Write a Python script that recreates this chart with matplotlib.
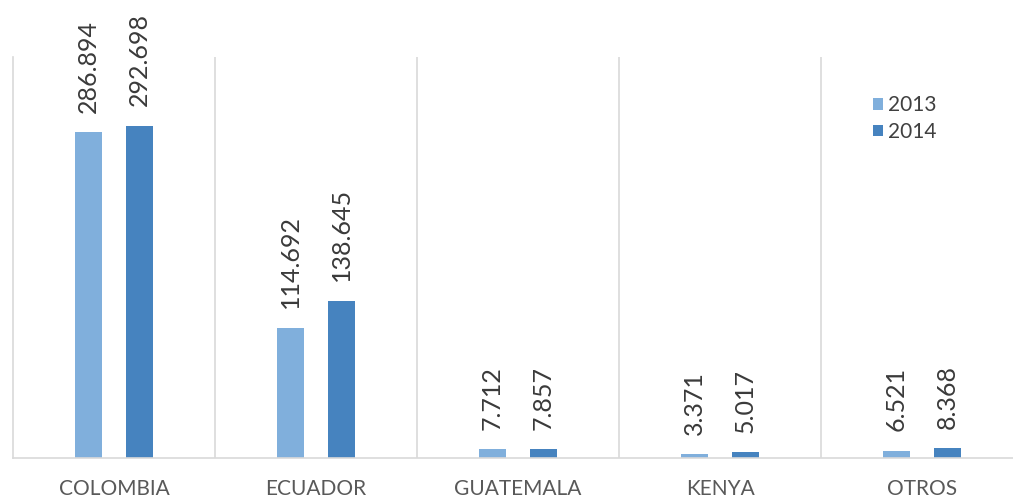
import matplotlib
matplotlib.use("Agg")
import matplotlib.pyplot as plt
import numpy as np

# data
categories = ["COLOMBIA", "ECUADOR", "GUATEMALA", "KENYA", "OTROS"]
values_2013 = [286.894, 114.692, 7.712, 3.371, 6.521]
values_2014 = [292.698, 138.645, 7.857, 5.017, 8.368]
series_names = ["2013", "2014"]

color_2013 = "#80afdc"
color_2014 = "#4683bf"
grid_color = "#d9d9d9"

fig = plt.figure(figsize=(10.13, 4.97), dpi=100)
ax = fig.add_axes([13 / 1013, 39 / 497, 1000 / 1013, 401 / 497])

x = np.arange(len(categories))
w = 0.134
off = 0.126

b1 = ax.bar(x - off, values_2013, w, color=color_2013, label=series_names[0])
b2 = ax.bar(x + off, values_2014, w, color=color_2014, label=series_names[1])

# value labels, rotated, above each bar
for bars, vals in ((b1, values_2013), (b2, values_2014)):
    for rect, v in zip(bars, vals):
        ax.annotate(f"{v:.3f}", (rect.get_x() + rect.get_width() / 2, rect.get_height()),
                    xytext=(0, 14), textcoords="offset points",
                    rotation=90, ha="center", va="bottom",
                    fontsize=18, family="Lato", color="#3a3a3a")

# separators between categories
for sep in np.arange(0.5, len(categories) - 0.5, 1):
    ax.axvline(sep, color=grid_color, lw=1.2)

ax.set_xlim(-0.5, -0.5 + 1000 / 202)
ax.set_ylim(0, 353)
ax.set_yticks([])
ax.set_xticks(x)
ax.set_xticklabels(categories, family="Lato", fontsize=15, color="#595959")
ax.tick_params(axis="x", length=0, pad=15)

for s in ("top", "right"):
    ax.spines[s].set_visible(False)
ax.spines["left"].set_color(grid_color)
ax.spines["left"].set_linewidth(1.2)
ax.spines["bottom"].set_color(grid_color)
ax.spines["bottom"].set_linewidth(1.2)

leg = ax.legend(loc="upper left", bbox_to_anchor=(863 / 1013, 1 - 85 / 497),
                bbox_transform=fig.transFigure, frameon=False,
                handlelength=0.45, handleheight=0.45, handletextpad=0.25,
                labelspacing=0.3, borderpad=0,
                prop={"family": "Lato", "size": 15})
for t in leg.get_texts():
    t.set_color("#404040")

fig.savefig("out.png", dpi=100)
